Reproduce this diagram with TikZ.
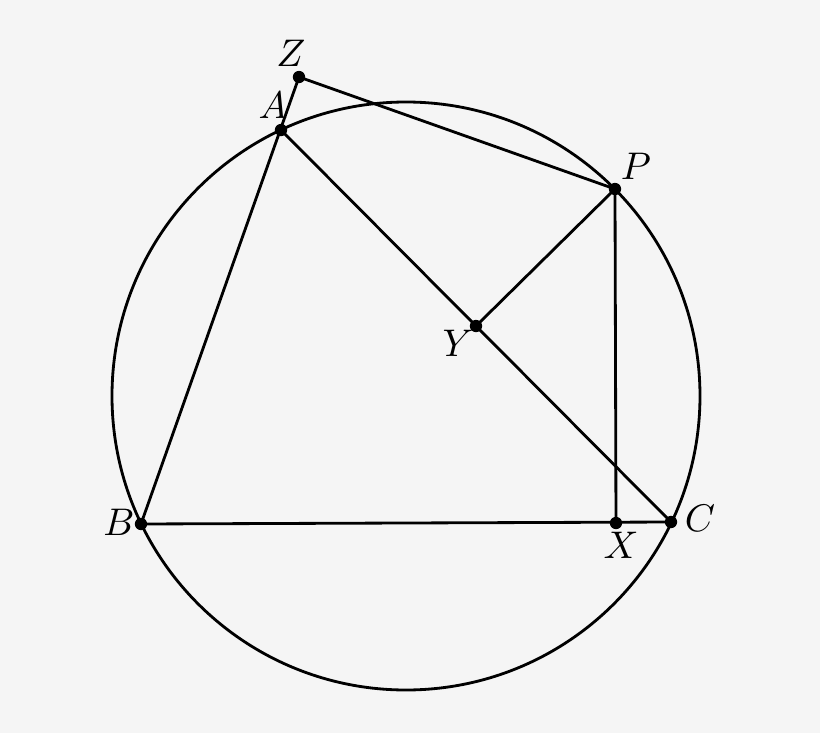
\documentclass[tikz,border=0pt]{standalone}
\usepackage{tikz}
\definecolor{paper}{HTML}{F5F5F5}

\begin{document}
\begin{tikzpicture}[x=0.01cm,y=-0.01cm,line width=0.8pt,
  dot/.style={circle,fill,inner sep=0pt,minimum size=3.5pt},
  lbl/.style={font=\fontsize{10.5}{12}\selectfont,inner sep=0pt}]
  \fill[paper] (0,0) rectangle (820,733);
  % points
  \coordinate (Z) at (299,77);
  \coordinate (A) at (281,130);
  \coordinate (P) at (615,189);
  \coordinate (Y) at (476,326);
  \coordinate (B) at (141,524);
  \coordinate (C) at (671,522);
  \coordinate (X) at (616,523);
  % circumcircle
  \draw (406,396) circle[radius=294];
  \draw (Z) -- (B) -- (C) -- (A);
  \draw (Z) -- (P) -- (Y);
  \draw (P) -- (X);
  \foreach \n in {Z,A,P,Y,B,C,X}
    \node[dot] (d\n) at (\n) {};
  \node[lbl] (lZ) at (291,53) {$Z$};
  \node[lbl] (lA) at (273,105) {$A$};
  \node[lbl] (lP) at (636,166) {$P$};
  \node[lbl] (lY) at (458,343) {$Y$};
  \node[lbl] (lB) at (119,522) {$B$};
  \node[lbl] (lC) at (700,518) {$C$};
  \node[lbl] (lX) at (621,545) {$X$};
\end{tikzpicture}
\end{document}
